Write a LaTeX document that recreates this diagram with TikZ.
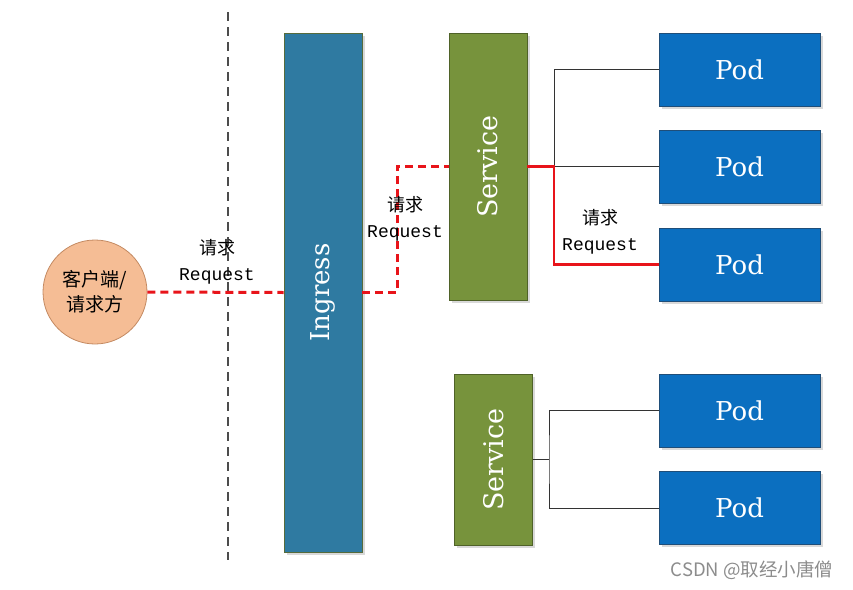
\documentclass[tikz,border=0pt]{standalone}
\usepackage{fontspec}
\setmainfont{DejaVu Serif}
\setmonofont{Liberation Mono}
\newfontfamily\cjk{Noto Sans CJK SC}
\usetikzlibrary{shadows}
\definecolor{ingressblue}{HTML}{2F7AA1}
\definecolor{ingressedge}{HTML}{566B3C}
\definecolor{svcgreen}{HTML}{77933C}
\definecolor{svcedge}{HTML}{4F6228}
\definecolor{podblue}{HTML}{0B6FC0}
\definecolor{podedge}{HTML}{1F4E79}
\definecolor{clientfill}{HTML}{F5BD95}
\definecolor{clientedge}{HTML}{C48A62}
\definecolor{reqred}{HTML}{E8141A}

\begin{document}
\begin{tikzpicture}[x=1pt,y=-1pt]
\tikzset{box/.style={draw,rectangle,line width=0.8pt,inner sep=0pt,text=white,drop shadow={shadow xshift=2.5pt,shadow yshift=-2.5pt,opacity=0.3}}}
\tikzset{ingressbox/.style={box,fill=ingressblue,draw=ingressedge,minimum width=78pt,minimum height=519pt,font=\fontsize{26}{26}\selectfont}}
\tikzset{svcbox/.style={box,fill=svcgreen,draw=svcedge,minimum width=78pt,font=\fontsize{27}{27}\selectfont}}
\tikzset{podbox/.style={box,fill=podblue,draw=podedge,minimum width=161pt,minimum height=73pt,font=\fontsize{26}{26}\selectfont}}
\tikzset{reqlabel/.style={align=center,font=\fontsize{18}{26}\selectfont}}
\tikzset{reqdash/.style={reqred,line width=3pt,dash pattern=on 8pt off 5pt}}
\tikzset{wire/.style={black!80,line width=0.8pt}}

\useasboundingbox (0,0) rectangle (853,589);

\draw[black!70,line width=1.4pt,dash pattern=on 9pt off 6pt] (228,12) coordinate (divtop) -- (228,560) coordinate (divbot);

\node[circle,minimum size=104pt,inner sep=0pt,fill=clientfill,draw=clientedge,line width=0.8pt,align=center,font=\cjk\fontsize{19}{25}\selectfont] (client) at (95,292) {客户端/\\请求方};

\node[ingressbox] (ingress) at (323,292.5) {\rotatebox{90}{Ingress}};

\node[svcbox,minimum height=267pt] (svc1) at (488,166.5) {\rotatebox{90}{Service}};
\node[svcbox,minimum height=171pt] (svc2) at (493.5,459.5) {\rotatebox{90}{Service}};

\node[podbox] (pod1) at (739.5,69.5) {Pod};
\node[podbox] (pod2) at (739.5,166.5) {Pod};
\node[podbox] (pod3) at (739.5,264.5) {Pod};
\node[podbox] (pod4) at (739.5,410.5) {Pod};
\node[podbox] (pod5) at (739.5,508) {Pod};

\coordinate (bend) at (397,292.5);
\coordinate (fork1) at (554,166.5);
\coordinate (fork2) at (549,459.5);

\draw[reqdash] (client.east) -- (ingress.west);
\draw[reqdash] (ingress.east) -- (bend) |- (svc1.west);

\draw[wire] (pod1.west) -| (fork1);
\draw[wire] (fork1) -- (pod2.west);
\draw[reqred,line width=2.2pt] (svc1.east) -- (fork1) |- (pod3.west);

\draw[wire] (svc2.east) -- (fork2);
\draw[wire] (pod4.west) -| (fork2) |- (pod5.west);

\node[reqlabel] (req1) at (217,262) {{\cjk 请求}\\{\ttfamily Request}};
\node[reqlabel] (req2) at (405,219) {{\cjk 请求}\\{\ttfamily Request}};
\node[reqlabel] (req3) at (600,232) {{\cjk 请求}\\{\ttfamily Request}};

\node[text=black!45,font=\cjk\fontsize{18.5}{18.5}\selectfont] (mark) at (752,570) {CSDN @取经小唐僧};
\end{tikzpicture}
\end{document}
